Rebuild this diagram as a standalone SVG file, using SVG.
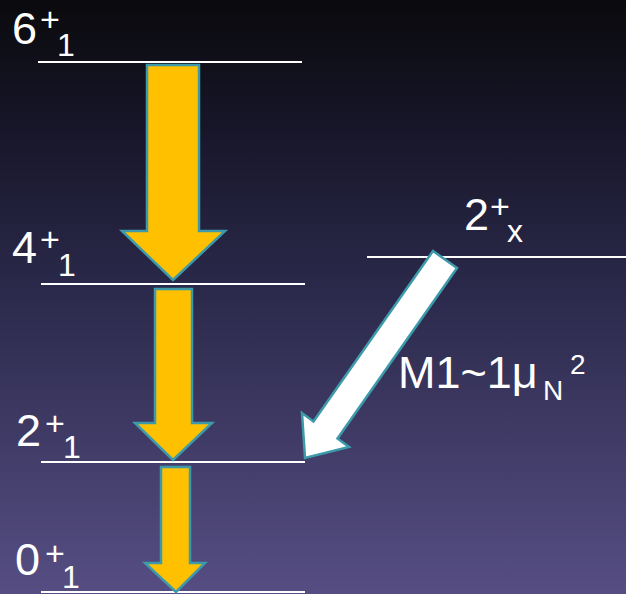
<svg xmlns="http://www.w3.org/2000/svg" width="626" height="594" viewBox="0 0 626 594">
  <defs>
    <linearGradient id="bg" x1="0" y1="0" x2="0" y2="1">
      <stop offset="0" stop-color="#0a0a0d"/>
      <stop offset="0.2" stop-color="#161527"/>
      <stop offset="0.5" stop-color="#2c2a4c"/>
      <stop offset="1" stop-color="#564e83"/>
    </linearGradient>
    <style>
      .lvl { stroke: #ffffff; stroke-width: 2; fill: none; }
      .t { font-family: "Liberation Sans", Arial, sans-serif; fill: #ffffff; }
      .big { font-size: 45px; }
      .sm { font-size: 32px; }
      .pl { font-size: 34px; }
      .ya { fill: #ffc000; stroke: #3d9aab; stroke-width: 2.5; stroke-linejoin: miter; }
      .wa { fill: #ffffff; stroke: #3d9aab; stroke-width: 2.5; stroke-linejoin: miter; }
    </style>
  </defs>
  <rect x="0" y="0" width="626" height="594" fill="url(#bg)"/>

  <g id="level-6plus1">
    <line class="lvl" x1="38" y1="62" x2="302" y2="62"/>
    <text class="t big" x="12" y="44">6</text>
    <text class="t pl" x="40" y="31">+</text>
    <text class="t sm" x="57" y="56">1</text>
  </g>
  <g id="level-4plus1">
    <line class="lvl" x1="41" y1="284" x2="305" y2="284"/>
    <text class="t big" x="12" y="263">4</text>
    <text class="t pl" x="40" y="251">+</text>
    <text class="t sm" x="58" y="276">1</text>
  </g>
  <g id="level-2plusx">
    <line class="lvl" x1="367" y1="257" x2="626" y2="257"/>
    <text class="t big" x="464" y="230">2</text>
    <text class="t pl" x="490" y="218">+</text>
    <text class="t sm" x="507" y="242">x</text>
  </g>
  <g id="level-2plus1">
    <line class="lvl" x1="41" y1="462" x2="305" y2="462"/>
    <text class="t big" x="16" y="446">2</text>
    <text class="t pl" x="45" y="435">+</text>
    <text class="t sm" x="63" y="458">1</text>
  </g>
  <g id="level-0plus1">
    <line class="lvl" x1="41" y1="592" x2="305" y2="592"/>
    <text class="t big" x="15" y="575">0</text>
    <text class="t pl" x="45" y="565">+</text>
    <text class="t sm" x="62" y="588">1</text>
  </g>

  <g id="connectors">
    <polygon class="ya" points="147,65 199,65 199,231 225,231 173,280 122,231 147,231"/>
    <polygon class="ya" points="155,289 192,289 192,423 212,423 173,460 135,423 155,423"/>
    <polygon class="ya" points="161,467 190,467 190,563 205,563 176,592 145,563 161,563"/>
    <polygon class="wa" points="433,251 457,268 337.5,438.5 349,447 305,458 302,413 313.5,421.5"/>
  </g>

  <g id="label-m1">
    <text class="t big" x="398" y="388">M1~1μ</text>
    <text class="t" style="font-size:28px" x="543" y="400">N</text>
    <text class="t" style="font-size:28px" x="570" y="374">2</text>
  </g>
</svg>
